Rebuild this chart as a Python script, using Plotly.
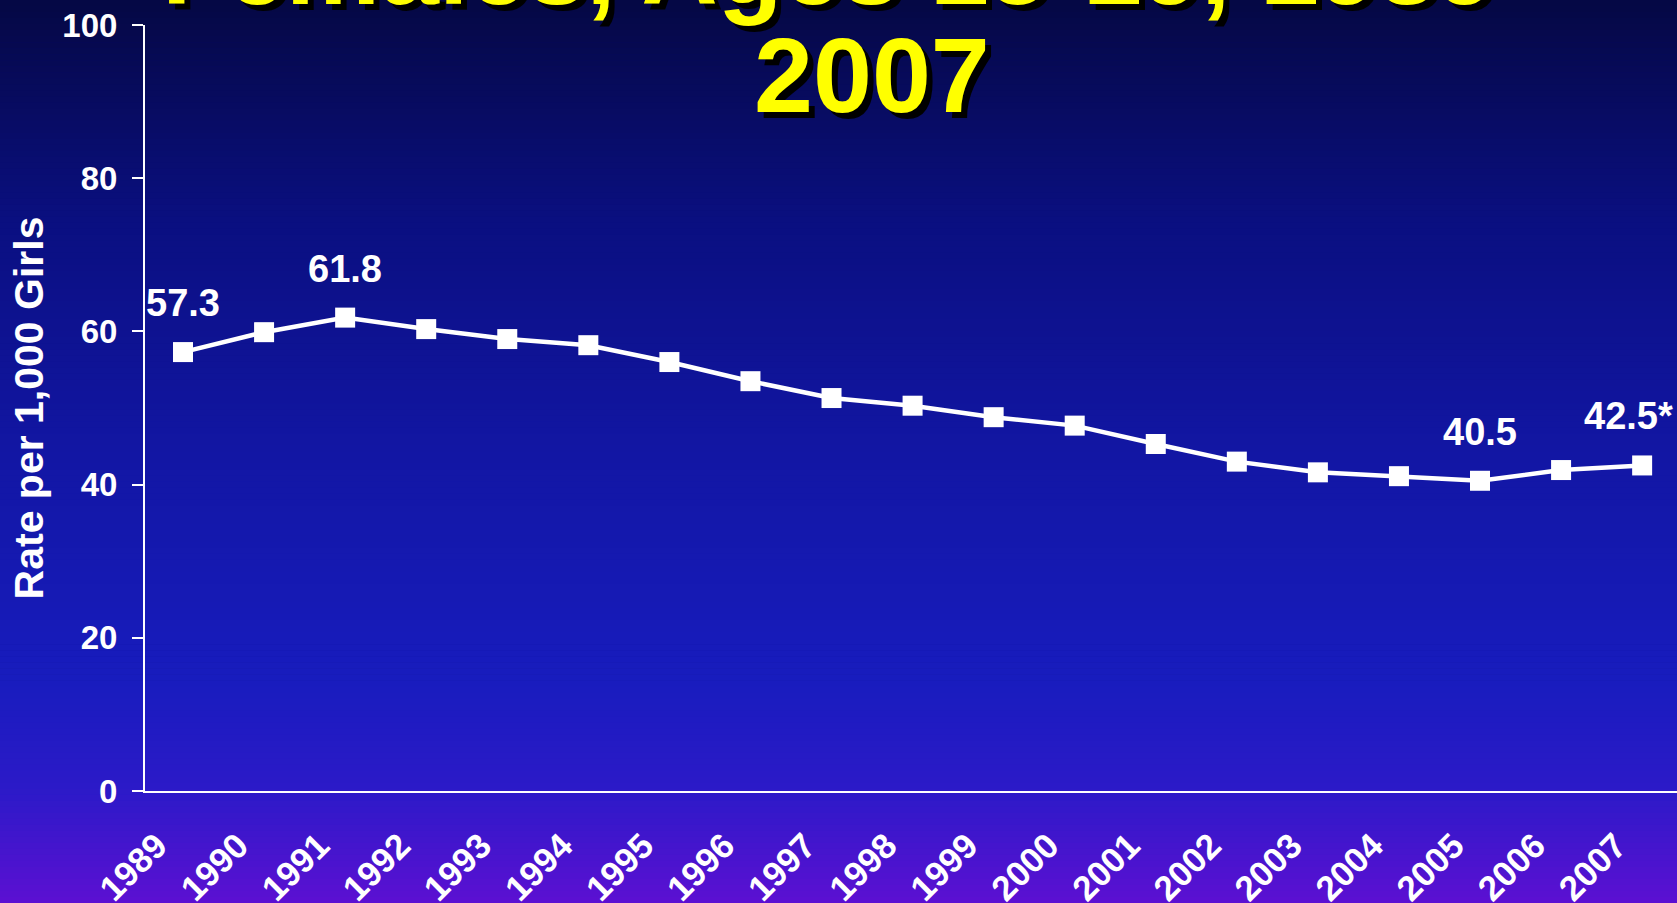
import plotly.graph_objects as go

years = ["1989", "1990", "1991", "1992", "1993", "1994", "1995", "1996", "1997", "1998",
         "1999", "2000", "2001", "2002", "2003", "2004", "2005", "2006", "2007"]
rates = [57.3, 59.9, 61.8, 60.3, 59.0, 58.2, 56.0, 53.5, 51.3, 50.3,
         48.8, 47.7, 45.3, 43.0, 41.6, 41.1, 40.5, 41.9, 42.5]
label_years = ["1989", "1991", "2005", "2007"]
label_texts = ["57.3", "61.8", "40.5", "42.5*"]
y_ticks = [0, 20, 40, 60, 80, 100]
title_line1 = "Females, Ages 15-19, 1989-"
title_line2 = "2007"
y_title = "Rate per 1,000 Girls"

W, H = 1677, 903
ML, MR, MT, MB = 145, 0, 25, 112
PW, PH = W - ML - MR, H - MT - MB

FONT = "Arial, Liberation Sans, Helvetica, sans-serif"

def px_to_paper_x(px):
    return (px - ML) / PW

def px_to_paper_y(py):
    return 1 - (py - MT) / PH

# vertical background gradient (stops in pixel rows)
stops = [(0, (5, 8, 68)), (220, (10, 15, 128)), (450, (18, 22, 163)),
         (680, (24, 28, 190)), (790, (44, 26, 200)), (903, (92, 16, 210))]

def color_at(py):
    for (a, ca), (b, cb) in zip(stops[:-1], stops[1:]):
        if a <= py <= b:
            t = (py - a) / (b - a)
            return tuple(round(ca[i] + (cb[i] - ca[i]) * t) for i in range(3))
    return stops[-1][1]

shapes = []
n_bands = 150
for i in range(n_bands):
    y0 = H * i / n_bands
    y1 = H * (i + 1) / n_bands
    c = color_at((y0 + y1) / 2)
    shapes.append(dict(type="rect", xref="paper", yref="paper", layer="below",
                       x0=px_to_paper_x(-5), x1=px_to_paper_x(W + 5),
                       y0=px_to_paper_y(y1 + 0.6 if i < n_bands - 1 else H + 10),
                       y1=px_to_paper_y(y0 if i > 0 else -10),
                       fillcolor="rgb(%d,%d,%d)" % c, line=dict(width=0)))

fig = go.Figure()
fig.add_trace(go.Scatter(
    x=years, y=rates, mode="lines+markers",
    line=dict(color="white", width=4.5),
    marker=dict(symbol="square", size=20, color="white"),
    cliponaxis=False, showlegend=False, hoverinfo="skip"))

annotations = []
for yr, txt in zip(label_years, label_texts):
    idx = years.index(yr)
    v = rates[idx]
    xs = -14 if txt.endswith("*") else 0
    annotations.append(dict(x=idx, y=v, xref="x", yref="y", text="<b>%s</b>" % txt,
                            showarrow=False, yshift=49, xshift=xs,
                            font=dict(family=FONT, size=38, color="white")))

# titles with black drop shadow
for line, cx, cy in [(title_line1, 846, -33), (title_line2, 872, 75)]:
    for dx, dy, col in [(6, 6, "black"), (0, 0, "#ffff00")]:
        annotations.append(dict(x=px_to_paper_x(cx + dx), y=px_to_paper_y(cy + dy),
                                xref="paper", yref="paper", xanchor="center", yanchor="middle",
                                text="<b>%s</b>" % line, showarrow=False,
                                font=dict(family=FONT, size=106, color=col)))

fig.update_layout(
    width=W, height=H,
    margin=dict(l=ML, r=MR, t=MT, b=MB, pad=0),
    paper_bgcolor="#0a0f80", plot_bgcolor="rgba(0,0,0,0)",
    shapes=shapes, annotations=annotations,
    font=dict(family=FONT, color="white"),
    xaxis=dict(type="category", range=[-0.469, 18.43], showgrid=False, zeroline=False,
               showline=True, linecolor="white", linewidth=2, ticks="", automargin=False,
               tickangle=-45, tickfont=dict(family=FONT, size=35, color="white", weight="bold"),
               ticklabelshift=-26, ticklabelstandoff=18),
    yaxis=dict(range=[0, 100], tickvals=y_ticks, showgrid=False, zeroline=False, automargin=False,
               showline=True, linecolor="white", linewidth=2, ticks="outside",
               ticklen=11, tickwidth=2, tickcolor="white", ticklabelstandoff=8,
               tickfont=dict(family=FONT, size=33, color="white", weight="bold"),
               title=dict(text="<b>%s</b>" % y_title, standoff=6,
                          font=dict(family=FONT, size=41, color="white"))),
)

fig.write_html("out.html")
